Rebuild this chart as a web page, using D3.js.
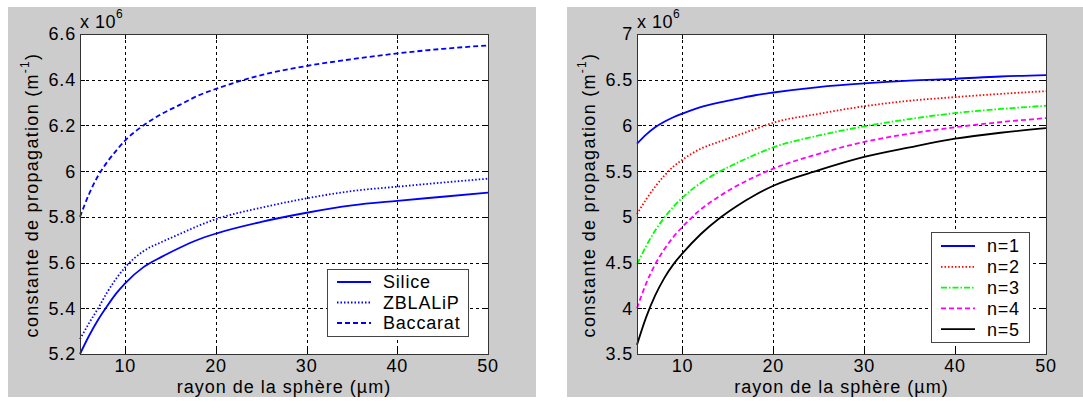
<!DOCTYPE html>
<html><head><meta charset="utf-8">
<script src="https://cdn.jsdelivr.net/npm/d3@7"></script>
<style>body{margin:0;background:#fff}text{font-family:"Liberation Sans",Arial,sans-serif;fill:#000}</style>
</head><body>
<svg id="c" width="1083" height="402"></svg>
<script>
// ---- data ----
const xs = [5, 6, 7, 8, 9, 10, 12, 14, 16, 18, 20, 25, 30, 35, 40, 45, 50];
const silice   = [5.20, 5.28, 5.35, 5.41, 5.465, 5.51, 5.58, 5.625, 5.665, 5.70, 5.727, 5.778, 5.818, 5.85, 5.87, 5.888, 5.906];
const zblalip  = [5.265, 5.335, 5.40, 5.47, 5.53, 5.58, 5.65, 5.69, 5.725, 5.76, 5.79, 5.84, 5.881, 5.913, 5.932, 5.95, 5.967];
const baccarat = [5.80, 5.90, 5.98, 6.04, 6.09, 6.135, 6.20, 6.25, 6.29, 6.33, 6.36, 6.42, 6.46, 6.49, 6.515, 6.535, 6.55];
const n1 = [5.80, 5.90, 5.98, 6.04, 6.09, 6.13, 6.20, 6.25, 6.29, 6.33, 6.36, 6.42, 6.46, 6.49, 6.51, 6.535, 6.55];
const n2 = [5.03, 5.19, 5.33, 5.45, 5.55, 5.625, 5.745, 5.82, 5.89, 5.96, 6.03, 6.127, 6.21, 6.27, 6.31, 6.345, 6.375];
const n3 = [4.48, 4.68, 4.85, 4.99, 5.11, 5.21, 5.37, 5.49, 5.59, 5.68, 5.76, 5.89, 5.99, 6.07, 6.135, 6.18, 6.215];
const n4 = [4.00, 4.27, 4.48, 4.645, 4.78, 4.89, 5.08, 5.22, 5.34, 5.44, 5.527, 5.69, 5.82, 5.91, 5.98, 6.036, 6.08];
const n5 = [3.60, 3.90, 4.14, 4.33, 4.48, 4.60, 4.81, 4.98, 5.12, 5.24, 5.34, 5.51, 5.655, 5.76, 5.855, 5.92, 5.97];
const xTicks = [10, 20, 30, 40, 50];
const yTicksLeft = [5.2, 5.4, 5.6, 5.8, 6, 6.2, 6.4, 6.6];
const yTicksRight = [3.5, 4, 4.5, 5, 5.5, 6, 6.5, 7];
const namesLeft = ["Silice", "ZBLALiP", "Baccarat"];
const namesRight = ["n=1", "n=2", "n=3", "n=4", "n=5"];
const xLabel = "rayon de la sphère (µm)";
const yLabel = "constante de propagation (m";

const svg = d3.select("#c");
const FS = 18, LS = 0.8, AFS = 18;

function panel(o) {
  const g = svg.append("g");
  g.append("rect").attr("x", o.bg[0]).attr("y", 7).attr("width", o.bg[1] - o.bg[0]).attr("height", 390).attr("fill", "#cccccc");
  const x = d3.scaleLinear().domain([5, 50]).range([o.L, o.R]);
  const y = d3.scaleLinear().domain(o.yDom).range([354, 34]);
  const T = 34, B = 354;
  g.append("rect").attr("x", o.L).attr("y", T).attr("width", o.R - o.L).attr("height", B - T).attr("fill", "#fff");
  // grid
  const grid = g.append("g").attr("stroke", "#000").attr("stroke-width", 1).attr("stroke-dasharray", "3,3");
  xTicks.filter(t => t < 50).forEach(t => grid.append("line").attr("x1", Math.round(x(t)) + .5).attr("x2", Math.round(x(t)) + .5).attr("y1", T).attr("y2", B));
  o.yTicks.slice(1, -1).forEach(t => grid.append("line").attr("y1", Math.round(y(t)) + .5).attr("y2", Math.round(y(t)) + .5).attr("x1", o.L).attr("x2", o.R));
  // ticks inward
  const tk = g.append("g").attr("stroke", "#000").attr("stroke-width", 1);
  xTicks.forEach(t => {
    const px = Math.round(x(t)) + .5;
    tk.append("line").attr("x1", px).attr("x2", px).attr("y1", B).attr("y2", B - 5);
    tk.append("line").attr("x1", px).attr("x2", px).attr("y1", T).attr("y2", T + 5);
  });
  o.yTicks.forEach(t => {
    const py = Math.round(y(t)) + .5;
    tk.append("line").attr("y1", py).attr("y2", py).attr("x1", o.L).attr("x2", o.L + 5);
    tk.append("line").attr("y1", py).attr("y2", py).attr("x1", o.R).attr("x2", o.R - 5);
  });
  // lines
  const line = d3.line().x((d, i) => x(xs[i])).y(d => y(d)).curve(d3.curveMonotoneX);
  o.series.forEach(s => {
    g.append("path").datum(s.v).attr("d", line).attr("fill", "none").attr("stroke", s.c).attr("stroke-width", 1.8).attr("stroke-dasharray", s.d);
  });
  // frame
  g.append("rect").attr("x", o.L + .5).attr("y", T + .5).attr("width", o.R - o.L).attr("height", B - T).attr("fill", "none").attr("stroke", "#333");
  // tick labels
  xTicks.forEach(t => g.append("text").attr("x", x(t)).attr("y", 372).attr("text-anchor", "middle").attr("font-size", FS).attr("letter-spacing", LS).text(t));
  o.yTicks.forEach(t => g.append("text").attr("x", o.L - 4).attr("y", y(t)).attr("dy", "0.36em").attr("text-anchor", "end").attr("font-size", FS).attr("letter-spacing", LS).text(d3.format("~g")(t)));
  // exponent
  const ex = g.append("text").attr("x", o.L).attr("y", 28).attr("font-size", FS).attr("letter-spacing", 0.5);
  ex.append("tspan").text("x 10");
  ex.append("tspan").attr("font-size", 12).attr("dy", -10).text("6");
  // axis labels
  g.append("text").attr("x", (o.L + o.R) / 2).attr("y", 393).attr("text-anchor", "middle").attr("font-size", AFS).attr("letter-spacing", 1).text(xLabel);
  const yl = g.append("text").attr("transform", `translate(${o.L - 42},195) rotate(-90)`).attr("text-anchor", "middle").attr("font-size", AFS).attr("letter-spacing", 1.3);
  yl.append("tspan").text(yLabel);
  yl.append("tspan").attr("font-size", 12).attr("dy", -9).text("-1");
  yl.append("tspan").attr("dy", 9).text(")");
  // legend
  const lg = g.append("g");
  lg.append("rect").attr("x", o.lg.x + .5).attr("y", o.lg.y + .5).attr("width", o.lg.w).attr("height", o.lg.h).attr("fill", "#fff").attr("stroke", "#444");
  o.series.forEach((s, i) => {
    const yy = o.lg.y0 + i * o.lg.dy;
    lg.append("line").attr("x1", o.lg.x + 10).attr("x2", o.lg.x + 44).attr("y1", yy).attr("y2", yy).attr("stroke", s.c).attr("stroke-width", 1.8).attr("stroke-dasharray", s.d);
    lg.append("text").attr("x", o.lg.x + 56).attr("y", yy).attr("dy", "0.36em").attr("font-size", FS).attr("letter-spacing", LS).text(s.n);
  });
}

panel({
  bg: [8, 536], L: 80, R: 488, yDom: [5.2, 6.6], yTicks: yTicksLeft,
  series: [
    {n: namesLeft[0], v: silice, c: "#0000ff", d: null},
    {n: namesLeft[1], v: zblalip, c: "#0000ff", d: "1.5,2"},
    {n: namesLeft[2], v: baccarat, c: "#0000ff", d: "5,3"}
  ],
  lg: {x: 327, y: 269, w: 141, h: 67, y0: 282, dy: 20.5}
});
panel({
  bg: [567, 1083], L: 637, R: 1046, yDom: [3.5, 7], yTicks: yTicksRight,
  series: [
    {n: namesRight[0], v: n1, c: "#0000ff", d: null},
    {n: namesRight[1], v: n2, c: "#ff0000", d: "1.5,2"},
    {n: namesRight[2], v: n3, c: "#00ff00", d: "6,2,1.5,2"},
    {n: namesRight[3], v: n4, c: "#ff00ff", d: "5,3"},
    {n: namesRight[4], v: n5, c: "#000000", d: null}
  ],
  lg: {x: 931, y: 232, w: 98, h: 110, y0: 246, dy: 20.8}
});
</script>
</body></html>
